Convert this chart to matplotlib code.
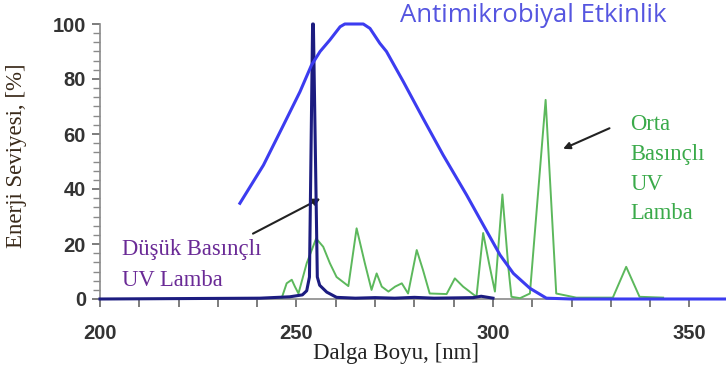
import matplotlib
matplotlib.use("Agg")
import matplotlib.pyplot as plt
from matplotlib.ticker import MultipleLocator

# Antimicrobial effectiveness curve (blue)
anti_x = [235.6, 241.6, 246.6, 250.9, 253.8, 256.0, 258.5, 261.1, 262.3, 267.0, 268.7, 271.2,
          272.9, 277.2, 282.2, 287.3, 293.3, 297.5, 301.8, 305.2, 309.4, 313.6, 320.0, 340.0, 359.3]
anti_y = [34.8, 48.7, 63, 75.4, 85, 90, 94.2, 99, 100, 100, 98.4, 93,
          90, 79, 65.7, 52.4, 37.8, 27, 16, 9.3, 3.9, 0.3, 0, 0, 0]

# Low pressure UV lamp (navy)
low_x = [200, 240.7, 248.3, 251.5, 252.6, 253.3, 254.1, 254.3, 255.3, 255.9, 257.7, 260.2,
         265, 270, 275, 280, 285, 290, 295, 297, 300]
low_y = [0, 0.3, 0.8, 1.5, 3, 8, 100, 100, 8, 5, 2.5, 0.6,
         0.3, 0.5, 0.3, 0.6, 0.3, 0.4, 0.5, 1.0, 0.3]

# Medium pressure UV lamp (green)
med_x = [246.2, 247.5, 248.8, 249.6, 250.5, 252.6, 255.0, 256.8, 258.5, 260.2, 263.2, 265.3,
         267.4, 269.1, 270.4, 271.7, 273.4, 275.1, 276.8, 278.4, 280.6, 282.2, 283.9, 288.2,
         290.3, 292.4, 295.8, 297.5, 299.0, 300.5, 302.4, 303.9, 304.7, 306.9, 309.4, 313.4,
         316.1, 317.8, 321.2, 330.5, 333.9, 337.3, 343.3]
med_y = [0.2, 5.7, 7, 4.5, 2, 13, 22, 19, 13, 8, 4.7, 25.7,
         13, 3.3, 9.3, 4.5, 2.7, 4.5, 5.7, 2, 17.8, 10.5, 2, 1.8,
         7.5, 4.5, 0.8, 24, 13, 2.7, 38, 11.7, 0.8, 0.3, 2, 72.4,
         2, 1.5, 0.5, 0.5, 11.7, 0.8, 0.5]

x_ticks = [200, 250, 300, 350]
y_ticks = [0, 20, 40, 60, 80, 100]

fig = plt.figure(figsize=(7.26, 3.76), dpi=100)
ax = fig.add_axes([100/726, 77/376, 626/726, 275/376])

ax.plot(med_x, med_y, color="#5cb85c", lw=1.4, zorder=3)
ax.plot(low_x, low_y, color="#1c1c80", lw=2.2, zorder=4, clip_on=False)
ax.plot(anti_x, anti_y, color="#3c3cf0", lw=2.2, zorder=5, clip_on=False)

ax.set_xlim(200, 359.3)
ax.set_ylim(0, 100)
ax.set_xticks(x_ticks)
ax.set_yticks(y_ticks)
ax.xaxis.set_minor_locator(MultipleLocator(10))
ax.yaxis.set_minor_locator(MultipleLocator(20 / 6))
for s in ["top", "right"]:
    ax.spines[s].set_visible(False)
for s in ["left", "bottom"]:
    ax.spines[s].set_color("#8a8a8a")
    ax.spines[s].set_linewidth(1.2)

ax.tick_params(axis="both", which="major", colors="#666666", labelcolor="#333333",
               labelsize=14.5, length=6, width=1.2)
ax.tick_params(axis="y", which="minor", direction="out", length=5, width=1, colors="#8a8a8a")
ax.tick_params(axis="x", which="minor", direction="out", length=6, width=1.2, colors="#666666")
ax.tick_params(axis="x", which="major", pad=12)
ax.tick_params(axis="y", which="major", pad=4)
for lab in ax.get_xticklabels() + ax.get_yticklabels():
    lab.set_family("Liberation Sans")
    lab.set_fontweight("bold")

ax.set_ylabel("Enerji Seviyesi, [%]", family="Liberation Serif", fontsize=16.5, color="#3a2a1a")
ax.yaxis.set_label_coords(-(100 - 27) / 626, (299 - 156) / 275)
ax.set_xlabel("Dalga Boyu, [nm]", family="Liberation Serif", fontsize=16.5, color="#222222")
ax.xaxis.set_label_coords((396 - 100) / 626, -(354 - 299) / 275)
ax.xaxis.label.set_va("center")

fig.text(533/726, 1 - 15/376, "Antimikrobiyal Etkinlik", family="Open Sans", fontsize=18.5,
         color="#5555e0", ha="center", va="center")
ax.text(205.6, 2.8, "Düşük Basınçlı\nUV Lamba", family="Liberation Serif", fontsize=16.3,
        color="#6a2a96", ha="left", va="bottom", linespacing=1.62)
ax.text(334.9, 67.3, "Orta\nBasınçlı\nUV\nLamba", family="Liberation Serif", fontsize=16.3,
        color="#3aaa4a", ha="left", va="top", linespacing=1.55)

ax.annotate("", xy=(256.7, 37), xytext=(238.3, 23.3),
            arrowprops=dict(arrowstyle="-|>", color="#222222", lw=1.5, mutation_scale=10))
ax.annotate("", xy=(317.2, 54.2), xytext=(330.3, 62.5),
            arrowprops=dict(arrowstyle="-|>", color="#222222", lw=1.5, mutation_scale=10))

fig.savefig("out.png", dpi=100)
